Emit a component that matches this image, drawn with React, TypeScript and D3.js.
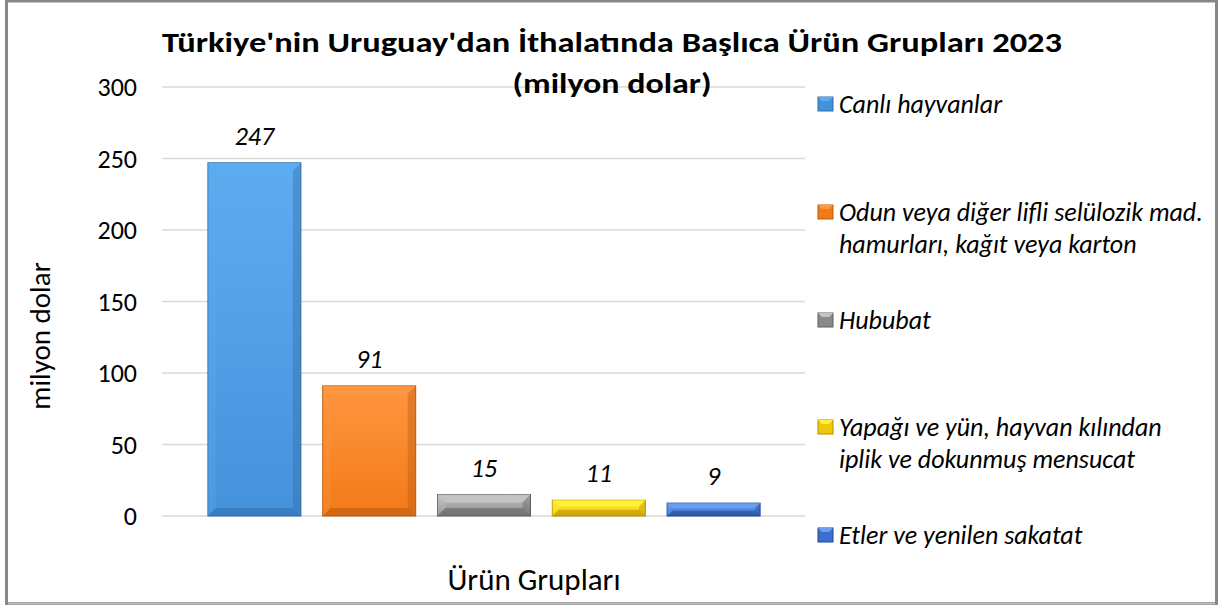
import React from "react";
import * as d3 from "d3";

const categories = [
  "Canlı hayvanlar",
  "Odun veya diğer lifli selülozik mad. hamurları, kağıt veya karton",
  "Hububat",
  "Yapağı ve yün, hayvan kılından iplik ve dokunmuş mensucat",
  "Etler ve yenilen sakatat",
];
const values = [247, 91, 15, 11, 9];
const legendLines = [
  ["Canlı hayvanlar"],
  ["Odun veya diğer lifli selülozik mad.", "hamurları, kağıt veya karton"],
  ["Hububat"],
  ["Yapağı ve yün, hayvan kılından", "iplik ve dokunmuş mensucat"],
  ["Etler ve yenilen sakatat"],
];
const yTicks = [0, 50, 100, 150, 200, 250, 300];
const colors = ["#4592dc", "#f27a18", "#8a8a8a", "#f0c808", "#3a6ed0"];
const lightColors = ["#5eacf0", "#ff9640", "#c4c4c4", "#fff03a", "#6aa0ee"];
const darkColors = ["#2f6ea8", "#b85a10", "#5e5e5e", "#b58e00", "#22478e"];

const W = 1221;
const H = 605;
const FONT = "Carlito, Calibri, Lato, sans-serif";

export default function App() {
  const y = d3.scaleLinear().domain([0, 300]).range([516, 87]);
  const x = d3.scaleBand<number>().domain(d3.range(values.length)).range([197, 771]).paddingInner(0.19).paddingOuter(0.095);
  const legendY = [104, 212, 320, 427, 535];

  return (
    <svg width={W} height={H} style={{ position: "absolute", left: 0, top: 0, background: "#fff" }}>
      <defs>
        {colors.map((c, i) => (
          <linearGradient key={i} id={`g${i}`} x1="0" y1="0" x2="0" y2="1">
            <stop offset="0" stopColor={lightColors[i]} />
            <stop offset="1" stopColor={c} />
          </linearGradient>
        ))}
      </defs>
      <rect x={0} y={0} width={W} height={H} fill="#fff" />
      {/* frame */}
      <rect x={6.5} y={1} width={1210} height={602.5} fill="none" stroke="#878787" strokeWidth={3} />
      <line x1={8} x2={1215} y1={603.5} y2={603.5} stroke="#c0c0c0" strokeWidth={2} />

      {/* gridlines */}
      {yTicks.map((t) => (
        <line key={t} x1={162} x2={805} y1={y(t)} y2={y(t)} stroke="#d9d9d9" strokeWidth={1.5} />
      ))}
      {yTicks.map((t) => (
        <text key={"l" + t} x={137} y={y(t)} dy="0.35em" textAnchor="end" fontFamily={FONT} fontSize={26} fill="#000">
          {t}
        </text>
      ))}

      {/* bars */}
      {values.map((v, i) => {
        const x0 = x(i)!;
        const bw = x.bandwidth();
        const y0 = y(v);
        const y1 = y(0);
        const h = y1 - y0;
        const b = Math.min(8, h / 2.5);
        return (
          <g key={i}>
            <rect x={x0} y={y0} width={bw} height={h} fill={`url(#g${i})`} stroke={darkColors[i]} strokeWidth={1} />
            <polygon points={`${x0},${y0} ${x0 + bw},${y0} ${x0 + bw - b},${y0 + b} ${x0 + b},${y0 + b}`} fill={lightColors[i]} opacity={0.9} />
            <polygon points={`${x0},${y0} ${x0 + b},${y0 + b} ${x0 + b},${y1 - b} ${x0},${y1}`} fill={lightColors[i]} opacity={0.3} />
            <polygon points={`${x0 + bw},${y0} ${x0 + bw - b},${y0 + b} ${x0 + bw - b},${y1 - b} ${x0 + bw},${y1}`} fill={darkColors[i]} opacity={0.4} />
            <polygon points={`${x0},${y1} ${x0 + b},${y1 - b} ${x0 + bw - b},${y1 - b} ${x0 + bw},${y1}`} fill={darkColors[i]} opacity={0.55} />
            <text x={x0 + bw / 2} y={y0 - 18} textAnchor="middle" fontFamily={FONT} fontStyle="italic" fontSize={26} fill="#000">
              {v}
            </text>
          </g>
        );
      })}

      {/* title */}
      <text x={612} y={52} textAnchor="middle" fontFamily={FONT} fontWeight="bold" fontSize={28} fill="#000" textLength={900} lengthAdjust="spacingAndGlyphs">
        Türkiye'nin Uruguay'dan İthalatında Başlıca Ürün Grupları 2023
      </text>
      <text x={612} y={93} textAnchor="middle" fontFamily={FONT} fontWeight="bold" fontSize={28} fill="#000" textLength={199} lengthAdjust="spacingAndGlyphs">
        (milyon dolar)
      </text>

      {/* axis titles */}
      <text transform={`translate(40,336) rotate(-90)`} textAnchor="middle" dominantBaseline="central" fontFamily={FONT} fontSize={29} fill="#000">
        milyon dolar
      </text>
      <text x={534} y={579} textAnchor="middle" dominantBaseline="central" fontFamily={FONT} fontSize={31} fill="#000">
        Ürün Grupları
      </text>

      {/* legend */}
      {categories.map((c, i) => (
        <g key={c}>
          <rect x={818} y={legendY[i] - 7} width={15} height={14} fill={colors[i]} stroke={darkColors[i]} strokeWidth={1} />
          <polygon points={`${818},${legendY[i] - 7} ${833},${legendY[i] - 7} ${829},${legendY[i] - 3} ${822},${legendY[i] - 3}`} fill={lightColors[i]} />
          {legendLines[i].map((ln, j) => (
            <text key={j} x={839} y={legendY[i] + j * 32} dy="0.35em" fontFamily={FONT} fontStyle="italic" fontSize={26} fill="#000">
              {ln}
            </text>
          ))}
        </g>
      ))}
    </svg>
  );
}
